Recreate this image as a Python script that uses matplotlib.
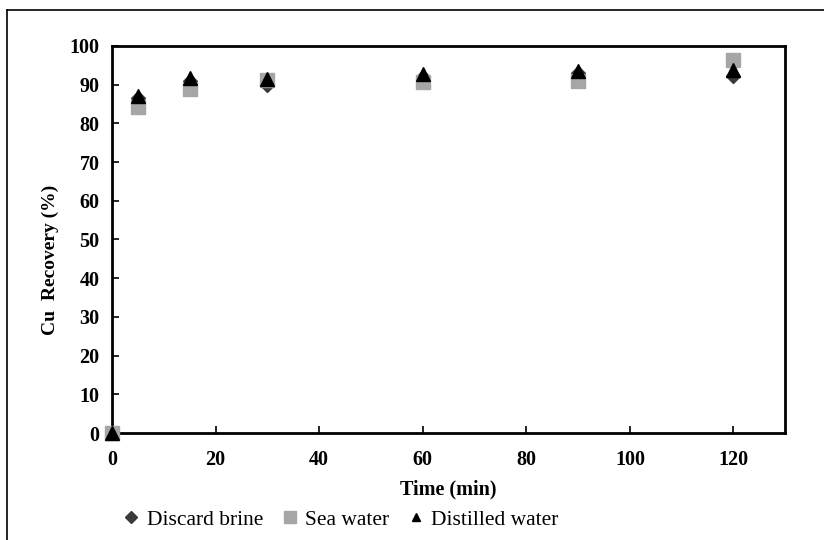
import matplotlib.pyplot as plt
from matplotlib.lines import Line2D

# data
time_min = [0, 5, 15, 30, 60, 90, 120]
discard_brine = [0, 86.5, 91.0, 90.0, 92.0, 93.0, 92.2]
sea_water = [0, 84.3, 88.8, 91.2, 90.8, 91.0, 96.3]
distilled_water = [0, 87.1, 91.6, 91.5, 92.8, 93.6, 93.9]

x_ticks = [0, 20, 40, 60, 80, 100, 120]
y_ticks = list(range(0, 101, 10))

plt.rcParams['font.family'] = ['Liberation Serif', 'DejaVu Serif']

fig = plt.figure(figsize=(8.24, 5.4), dpi=100)
ax = fig.add_axes([0.136, 0.198, 0.817, 0.717])

ax.plot(time_min, discard_brine, linestyle='none', marker='D', markersize=7,
        color='#3a3a3a', label='Discard brine', zorder=2)
ax.plot(time_min, sea_water, linestyle='none', marker='s', markersize=10.5,
        color='#a6a6a6', label='Sea water', zorder=3)
ax.plot(time_min, distilled_water, linestyle='none', marker='^', markersize=10,
        color='black', label='Distilled water', zorder=4)

# excel-style axis: ends at 130, labelled up to 120
ax.set_xlim(0, 130)
ax.set_ylim(0, 100)
ax.set_xticks(x_ticks)
ax.set_yticks(y_ticks)
ax.tick_params(direction='in', length=5, width=1.2, labelsize=14.5)
ax.tick_params(axis='x', pad=12)
ax.tick_params(axis='y', pad=9)
for lab in ax.get_xticklabels() + ax.get_yticklabels():
    lab.set_fontweight('bold')
for sp in ax.spines.values():
    sp.set_linewidth(2.0)
for ln in ax.lines:
    ln.set_clip_on(False)

ax.set_xlabel('Time (min)', fontsize=14.5, fontweight='bold')
ax.xaxis.set_label_coords(0.5, -0.12)
ax.set_ylabel('Cu  Recovery (%)', fontsize=14, fontweight='bold')
ax.yaxis.set_label_coords(-0.079, 0.447)

# legend below the axis
handles = [
    Line2D([], [], linestyle='none', marker='D', markersize=6, color='#3a3a3a'),
    Line2D([], [], linestyle='none', marker='s', markersize=9, color='#a6a6a6'),
    Line2D([], [], linestyle='none', marker='^', markersize=6, color='black'),
]
fig.legend(handles, ['Discard brine', 'Sea water', 'Distilled water'],
           loc='center left', bbox_to_anchor=(0.123, 0.038), ncol=3,
           frameon=False, fontsize=15.5, handletextpad=0.2, columnspacing=0.75,
           handlelength=1.0)

# outer frame (top and left edges visible)
fig.add_artist(Line2D([0.0085, 0.0085], [0.0, 0.981], transform=fig.transFigure,
                      color='black', linewidth=1.2))
fig.add_artist(Line2D([0.0085, 1.0], [0.981, 0.981], transform=fig.transFigure,
                      color='black', linewidth=1.2))

fig.savefig('out.png', dpi=100)
